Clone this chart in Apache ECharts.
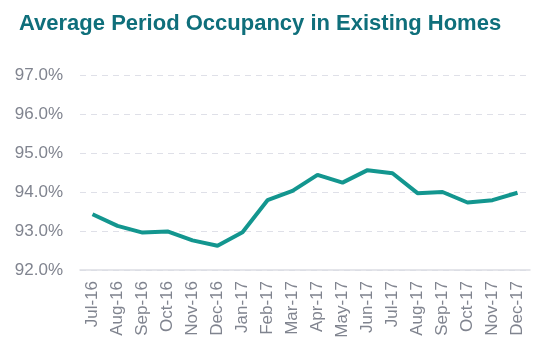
<!DOCTYPE html>
<html>
<head>
<meta charset="utf-8">
<script src="https://cdn.jsdelivr.net/npm/echarts@6/dist/echarts.min.js"></script>
<style>
  html, body { margin: 0; padding: 0; background: #fff; }
  #chart { width: 547px; height: 351px; }
</style>
</head>
<body>
<div id="chart"></div>
<script>
const months = ['Jul-16', 'Aug-16', 'Sep-16', 'Oct-16', 'Nov-16', 'Dec-16', 'Jan-17', 'Feb-17', 'Mar-17',
  'Apr-17', 'May-17', 'Jun-17', 'Jul-17', 'Aug-17', 'Sep-17', 'Oct-17', 'Nov-17', 'Dec-17']
const occupancy = [93.43, 93.13, 92.96, 92.99, 92.76, 92.62, 92.97, 93.79, 94.03,
  94.44, 94.24, 94.56, 94.48, 93.97, 94.0, 93.73, 93.79, 93.98]

const labelColor = '#80848f'
const chart = echarts.init(document.getElementById('chart'))

chart.setOption({
  animation: false,
  title: {
    text: 'Average Period Occupancy in Existing Homes',
    left: 14,
    top: 8,
    textStyle: {
      fontFamily: 'Liberation Sans, Arial, sans-serif',
      fontSize: 22,
      fontWeight: 'bold',
      color: '#0f6f7b'
    }
  },
  grid: { left: 80, right: 17, top: 75, bottom: 81 },
  xAxis: {
    type: 'category',
    data: months,
    boundaryGap: true,
    axisLine: { lineStyle: { color: '#dcdde3', width: 1.5 } },
    axisTick: { show: false },
    axisLabel: {
      rotate: 90,
      interval: 0,
      margin: 11,
      color: labelColor,
      fontFamily: 'Liberation Sans, Arial, sans-serif',
      fontSize: 17
    }
  },
  yAxis: {
    type: 'value',
    min: 92,
    max: 97,
    interval: 1,
    axisLine: { show: false },
    axisTick: { show: false },
    splitLine: { lineStyle: { color: '#dfe0e8', type: [6, 5], width: 1 } },
    axisLabel: {
      margin: 17,
      color: labelColor,
      fontFamily: 'Liberation Sans, Arial, sans-serif',
      fontSize: 17,
      formatter: v => v.toFixed(1) + '%'
    }
  },
  series: [{
    type: 'line',
    data: occupancy,
    symbol: 'none',
    lineStyle: { color: '#13968f', width: 4 }
  }]
})
</script>
</body>
</html>
